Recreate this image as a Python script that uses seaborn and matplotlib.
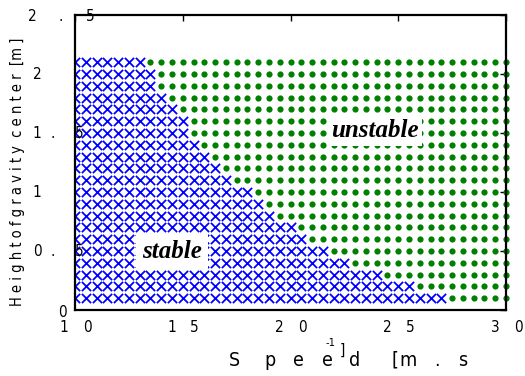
import matplotlib
matplotlib.use("Agg")
import matplotlib.pyplot as plt
from matplotlib.transforms import offset_copy
import seaborn as sns
import numpy as np
import pandas as pd

# rows of the grid (height of gravity center, m) and the last stable speed in each row
heights = [0.1, 0.2, 0.3, 0.4, 0.5, 0.6, 0.7, 0.8, 0.9, 1.0, 1.1,
           1.2, 1.3, 1.4, 1.5, 1.6, 1.7, 1.8, 1.9, 2.0, 2.1]
stable_limit = [27.0, 25.5, 24.0, 22.5, 21.5, 20.5, 20.0, 19.0, 18.5, 18.0, 17.0,
                16.5, 16.0, 15.5, 15.0, 15.0, 14.5, 14.0, 13.5, 13.5, 13.0]
speeds = np.arange(10, 30.01, 0.5)

xticks = [10, 15, 20, 25, 30]
xtick_labels = ["1 0", "1 5", "2 0", "2 5", "3 0"]
yticks = [0, 0.5, 1, 1.5, 2, 2.5]
ytick_labels = ["0", "0 . 5", "1", "1 . 5", "2", "2 . 5"]

rows = []
for h, lim in zip(heights, stable_limit):
    for s in speeds:
        rows.append({"speed": s, "height": h, "state": "stable" if s <= lim + 1e-9 else "unstable"})
df = pd.DataFrame(rows)

sns.set_style("white")
narrow = ["Liberation Sans Narrow", "DejaVu Sans"]
plt.rcParams["font.family"] = narrow
plt.rcParams["font.stretch"] = "condensed"
plt.rcParams["text.color"] = "black"

fig = plt.figure(figsize=(5.25, 3.76), dpi=100)
ax = fig.add_axes([75 / 525, 1 - 310 / 376, 431 / 525, 295 / 376])

sns.scatterplot(data=df[df.state == "stable"], x="speed", y="height", marker="x",
                color="#0000ff", s=44, linewidth=1.3, ax=ax, zorder=3)
sns.scatterplot(data=df[df.state == "unstable"], x="speed", y="height", marker="o",
                color="#008000", s=20, linewidth=0, ax=ax, zorder=3, clip_on=False)

ax.set_xlim(10, 30)
ax.set_ylim(0, 2.5)
ax.set_xticks(xticks)
ax.set_yticks(yticks)
ax.set_xticklabels([])
ax.set_yticklabels([])
ax.set_xlabel("")
ax.set_ylabel("")
ax.tick_params(direction="in", length=4, width=1, top=True, right=True, color="black")
for sp in ax.spines.values():
    sp.set_linewidth(1.6)
    sp.set_color("black")
    sp.set_zorder(5)

# spaced-out tick labels, drawn one character at a time
def spaced(x, y, chars, offsets, base, size, **kw):
    for c, off in zip(chars, offsets):
        if c == " ":
            continue
        tr = offset_copy(base, fig=fig, x=off, y=0, units="dots")
        ax.text(x, y, c, transform=tr, ha="center", va="center", fontsize=size,
                family=narrow, fontstretch="condensed", color="black",
                clip_on=False, zorder=4, **kw)

for t, lab in zip(xticks, xtick_labels):
    spaced(t, -0.061, lab, [-11, 0, 12], ax.get_xaxis_transform(), 11)

ytr = ax.get_yaxis_transform()
for t, lab in zip(yticks, ytick_labels):
    if lab == "0":
        spaced(0, -0.02, "0", [-13], ytr, 11)
    elif lab == "2 . 5":
        spaced(-0.098, t - 0.01, lab, [0, 14, 28, 42, 58], ytr, 11)
    else:
        spaced(-0.088, t, lab, [0, 8, 16, 28, 42], ytr, 11)

# region labels
ax.text(23.9, 1.52, "unstable", fontsize=18, fontweight="bold", fontstyle="italic",
        family="Liberation Serif", fontstretch="normal", color="black",
        ha="center", va="center", zorder=6,
        bbox=dict(facecolor="white", edgecolor="none", boxstyle="square,pad=0.15"))
ax.text(14.5, 0.50, "stable", fontsize=18, fontweight="bold", fontstyle="italic",
        family="Liberation Serif", fontstretch="normal", color="black",
        ha="center", va="center", zorder=6,
        bbox=dict(facecolor="white", edgecolor="none", boxstyle="square,pad=0.25"))

# axis titles
fig.text(18 / 525, 1 - 172 / 376, "H e i g h t o f g r a v i t y  c e n t e r  [m ]",
         rotation=90, ha="center", va="center", fontsize=10.5, family=narrow,
         fontstretch="condensed")
xlab = [("S", 234), ("p", 270), ("e", 298), ("e", 327), ("d", 355),
        ("[", 395), ("m", 408), (".", 437), ("s", 463)]
for ch, px in xlab:
    fig.text(px / 525, 1 - 360 / 376, ch, ha="center", va="center", fontsize=14,
             family=narrow, fontstretch="condensed")
fig.text(331 / 525, 1 - 343 / 376, "-1", ha="center", va="center", fontsize=8, family=narrow)
fig.text(342 / 525, 1 - 350 / 376, "]", ha="center", va="center", fontsize=11, family=narrow)

fig.savefig("out.png", dpi=100)
plt.close(fig)
